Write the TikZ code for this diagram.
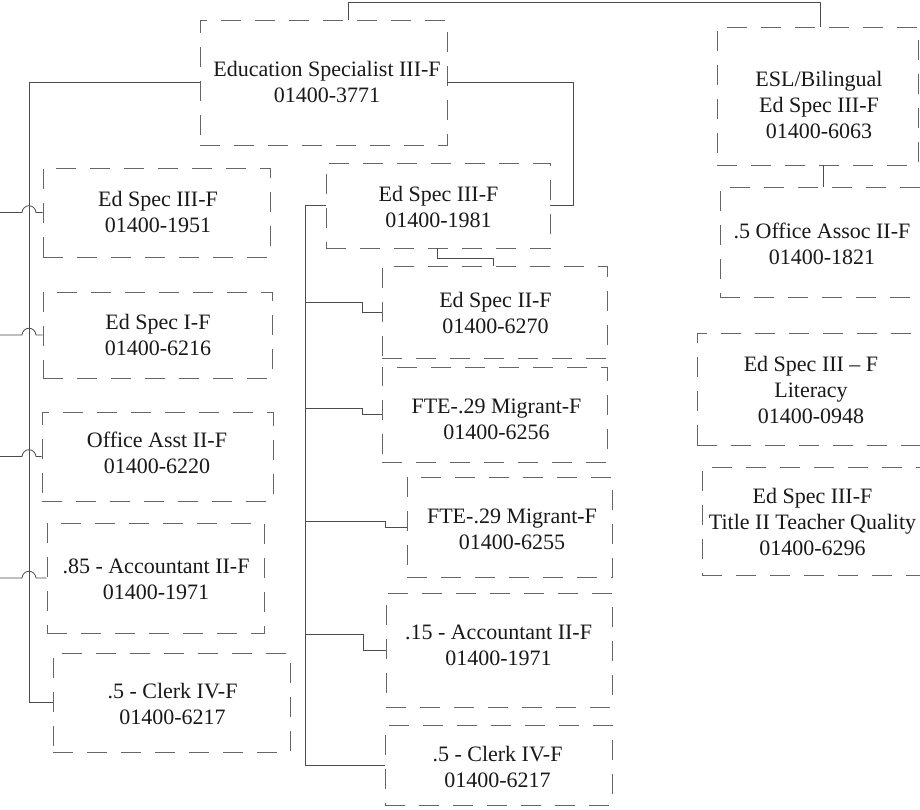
\documentclass[tikz,border=0pt]{standalone}
\usepackage{fontspec}
\setmainfont{Liberation Serif}
\begin{document}
\begin{tikzpicture}[x=1pt,y=-1pt,
  box/.style={draw=black!60, line width=0.9pt, dash pattern=on 20pt off 14pt, rectangle, inner sep=0pt},
  txt/.style={align=center, inner sep=0pt, font=\fontsize{22}{26}\selectfont, text=black!90},
  conn/.style={draw=black!70, line width=0.8pt}]
\useasboundingbox (0,0) rectangle (920,809);
\clip (0,0) rectangle (920,809);
\fill[white] (0,0) rectangle (920,809);

% ---- boxes (x1,y1,x2,y2 -> centre, size)
\node[box, minimum width=247pt, minimum height=125pt] (edu)    at (323.5,82.5) {};
\node[box, minimum width=227pt, minimum height=89pt]  (b1951)  at (156.5,212.5) {};
\node[box, minimum width=229pt, minimum height=86pt]  (b6216)  at (157.5,335) {};
\node[box, minimum width=231pt, minimum height=89pt]  (b6220)  at (157.5,456.5) {};
\node[box, minimum width=217pt, minimum height=110pt] (b1971L) at (155.5,578) {};
\node[box, minimum width=237pt, minimum height=99pt]  (b6217L) at (171.5,702.5) {};
\node[box, minimum width=224pt, minimum height=85pt]  (b1981)  at (438,205.5) {};
\node[box, minimum width=225pt, minimum height=92pt]  (b6270)  at (494.5,312) {};
\node[box, minimum width=225pt, minimum height=95pt]  (b6256)  at (494.5,414.5) {};
\node[box, minimum width=205pt, minimum height=100pt] (b6255)  at (509.5,527) {};
\node[box, minimum width=226pt, minimum height=114pt] (b1971M) at (499,650) {};
\node[box, minimum width=227pt, minimum height=80pt]  (b6217M) at (498.5,765) {};
\node[box, minimum width=201pt, minimum height=138pt] (bESL)   at (817.5,96) {};
\node[box, minimum width=215pt, minimum height=110pt] (bOff)   at (827.5,242) {};
\node[box, minimum width=238pt, minimum height=112pt] (bLit)   at (816,389) {};
\node[box, minimum width=233pt, minimum height=108pt] (bTit)   at (818.5,521) {};

% ---- texts
\node[txt] (tedu)   at (327,82)    {Education Specialist III-F\\01400-3771};
\node[txt] (t1951)  at (158,211.5) {Ed Spec III-F\\01400-1951};
\node[txt] (t6216)  at (158,335)   {Ed Spec I-F\\01400-6216};
\node[txt] (t6220)  at (157,453)   {Office Asst II-F\\01400-6220};
\node[txt] (t1971L) at (156,579.5) {.85 - Accountant II-F\\01400-1971};
\node[txt] (t6217L) at (172.5,703.5) {.5 - Clerk IV-F\\01400-6217};
\node[txt] (t1981)  at (438.5,206.5) {Ed Spec III-F\\01400-1981};
\node[txt] (t6270)  at (495.5,312.5) {Ed Spec II-F\\01400-6270};
\node[txt] (t6256)  at (496.5,419.5) {FTE-.29 Migrant-F\\01400-6256};
\node[txt] (t6255)  at (512,529.5) {FTE-.29 Migrant-F\\01400-6255};
\node[txt] (t1971M) at (498.5,645) {.15 - Accountant II-F\\01400-1971};
\node[txt] (t6217M) at (497.5,766.5) {.5 - Clerk IV-F\\01400-6217};
\node[txt] (tESL)   at (819,105) {ESL/Bilingual\\Ed Spec III-F\\01400-6063};
\node[txt] (tOff)   at (822,243.5) {.5 Office Assoc II-F\\01400-1821};
\node[txt] (tLit)   at (811,389.5) {Ed Spec III -- F\\Literacy\\01400-0948};
\node[txt] (tTit)   at (812.5,521.5) {Ed Spec III-F\\Title II Teacher Quality\\01400-6296};

% ---- connectors
% top link to ESL box
\coordinate (jTop) at (348,2);
\coordinate (jEsl) at (820,2);
\draw[conn] (jTop |- edu.north) -- (jTop) -- (jEsl) -- (jEsl |- bESL.north);
% ESL to office assoc
\coordinate (jEO) at (823,0);
\draw[conn] (jEO |- bESL.south) -- (jEO |- bOff.north);
% left bus
\coordinate (busL) at (29,0);
\draw[conn] (edu.west) -| (busL |- b6217L.west) -- (b6217L.west);
% hop lines from the left edge
\foreach \n/\yy in {b1951/212.5, b6216/335, b6220/456.5, b1971L/578}{
  \coordinate (src\n) at (0,\yy);
  \draw[conn] (src\n) -- (22,\yy) .. controls (23,\yy-9) and (35,\yy-9) .. (36,\yy) -- (\n.west);
}
% edu right to 1981 right
\coordinate (jR) at (573,0);
\draw[conn] (edu.east) -| (jR |- b1981.east) -- (b1981.east);
% 1981 bottom to 6270 top
\coordinate (jm1) at (437,258);
\coordinate (jm2) at (493,258);
\draw[conn] (jm1 |- b1981.south) -- (jm1) -- (jm2) -- (jm2 |- b6270.north);
% middle bus
\coordinate (busM) at (305,0);
\draw[conn] (b1981.west) -| (busM |- b6217M.west) -- (b6217M.west);
\coordinate (tap1) at (305,302);
\coordinate (tap2) at (305,408);
\coordinate (tap3) at (305,521);
\coordinate (tap4) at (305,634);
\draw[conn] (tap1) -| (362,312) -- (b6270.west);
\draw[conn] (tap2) -| (362,414.5) -- (b6256.west);
\draw[conn] (tap3) -| (385,527) -- (b6255.west);
\draw[conn] (tap4) -| (363,650) -- (b1971M.west);
\end{tikzpicture}
\end{document}
